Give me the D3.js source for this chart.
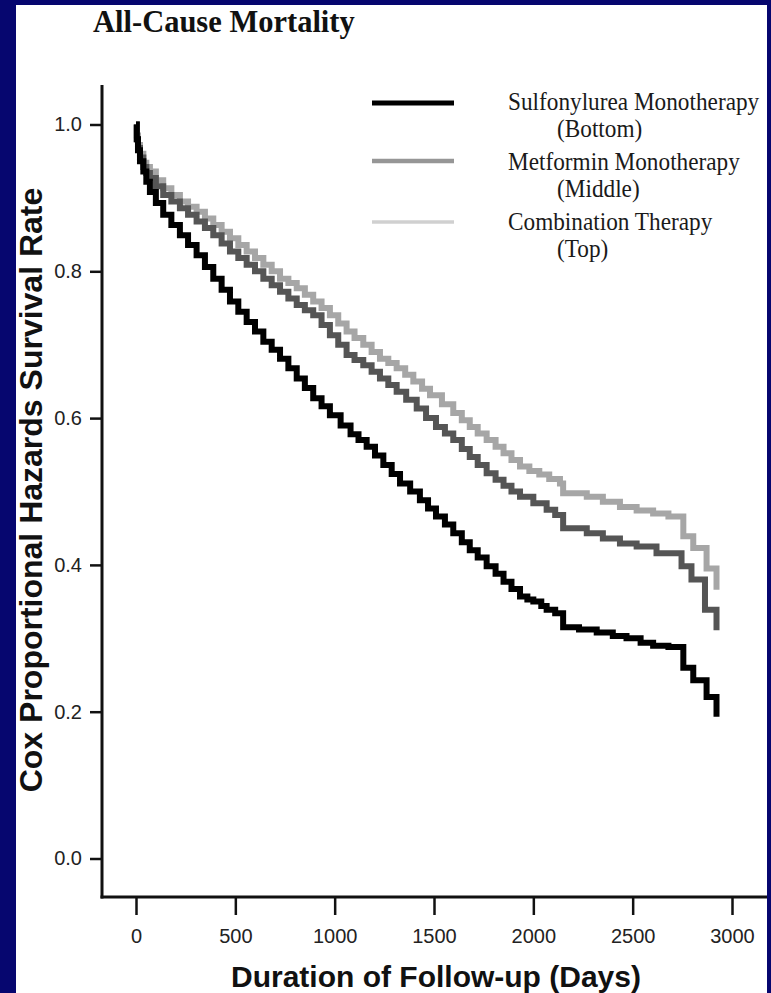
<!DOCTYPE html>
<html>
<head>
<meta charset="utf-8">
<script src="https://cdn.jsdelivr.net/npm/d3@7"></script>
<style>
  html, body { margin: 0; padding: 0; background: #06066f; }
  svg { display: block; }
</style>
</head>
<body>
<svg id="chart" width="771" height="993"></svg>
<script>
// ---- Data (days, survival rate) ----
const xTicks = [0, 500, 1000, 1500, 2000, 2500, 3000];
const yTicks = [0.0, 0.2, 0.4, 0.6, 0.8, 1.0];

const seriesNames = [
  "Sulfonylurea Monotherapy", "Metformin Monotherapy", "Combination Therapy"
];
const seriesPositions = ["(Bottom)", "(Middle)", "(Top)"];

const sulfonylurea = [
  [0,1.0],[4,0.98],[10,0.965],[20,0.95],[37,0.936],[52,0.922],[70,0.908],[100,0.893],
  [137,0.877],[178,0.863],[221,0.849],[262,0.836],[305,0.822],[347,0.806],[389,0.79],
  [431,0.775],[473,0.759],[515,0.745],[557,0.731],[599,0.718],[641,0.704],[683,0.693],
  [725,0.681],[767,0.668],[809,0.654],[850,0.641],[892,0.627],[934,0.616],[976,0.604],
  [1030,0.59],[1080,0.578],[1120,0.57],[1161,0.561],[1203,0.549],[1245,0.536],[1287,0.524],
  [1329,0.511],[1380,0.5],[1429,0.488],[1470,0.477],[1510,0.466],[1555,0.455],[1597,0.443],
  [1640,0.431],[1680,0.42],[1720,0.41],[1765,0.398],[1810,0.388],[1850,0.377],[1890,0.367],
  [1933,0.357],[1970,0.353],[2000,0.35],[2040,0.344],[2067,0.339],[2110,0.334],[2150,0.315],
  [2230,0.312],[2319,0.308],[2400,0.303],[2469,0.3],[2540,0.294],[2603,0.29],
  [2680,0.288],[2755,0.26],[2805,0.243],[2872,0.22],[2922,0.193]
];
const metformin = [
  [0,1.0],[4,0.98],[10,0.968],[20,0.955],[37,0.942],[52,0.934],[70,0.927],[100,0.916],
  [137,0.904],[178,0.895],[221,0.886],[262,0.877],[305,0.868],[347,0.859],[389,0.849],
  [431,0.838],[473,0.827],[515,0.818],[557,0.809],[599,0.8],[641,0.79],[683,0.781],
  [725,0.772],[767,0.763],[809,0.754],[850,0.747],[892,0.74],[934,0.727],[976,0.713],
  [1018,0.7],[1060,0.686],[1100,0.679],[1144,0.672],[1186,0.663],[1228,0.654],[1270,0.645],
  [1312,0.636],[1360,0.625],[1413,0.613],[1460,0.6],[1510,0.588],[1555,0.579],[1597,0.57],
  [1640,0.558],[1680,0.547],[1720,0.536],[1765,0.525],[1810,0.516],[1850,0.508],[1890,0.5],
  [1933,0.493],[2000,0.484],[2067,0.475],[2110,0.468],[2150,0.45],[2269,0.443],[2350,0.436],
  [2436,0.429],[2520,0.425],[2620,0.416],[2746,0.398],[2796,0.38],[2864,0.339],[2922,0.311]
];
const combination = [
  [0,1.0],[4,0.985],[10,0.972],[20,0.96],[37,0.948],[52,0.942],[70,0.936],[100,0.924],
  [137,0.913],[178,0.904],[221,0.895],[262,0.888],[305,0.881],[347,0.872],[389,0.863],
  [431,0.854],[473,0.845],[515,0.836],[557,0.827],[599,0.818],[641,0.809],[683,0.8],
  [725,0.79],[767,0.784],[809,0.777],[850,0.768],[892,0.759],[934,0.75],[976,0.74],
  [1018,0.729],[1060,0.718],[1100,0.709],[1144,0.7],[1186,0.69],[1228,0.681],[1270,0.675],
  [1312,0.668],[1355,0.659],[1396,0.65],[1440,0.64],[1480,0.631],[1540,0.619],[1597,0.607],
  [1640,0.597],[1680,0.588],[1720,0.579],[1765,0.57],[1810,0.561],[1850,0.552],[1890,0.543],
  [1933,0.534],[1980,0.528],[2030,0.523],[2080,0.517],[2134,0.511],[2150,0.4975],[2269,0.493],
  [2350,0.486],[2436,0.479],[2520,0.474],[2603,0.47],[2680,0.466],[2755,0.439],[2805,0.423],
  [2872,0.395],[2922,0.366]
];

const seriesData = [sulfonylurea, metformin, combination];
const lineColors = ["#000000", "#555555", "#a6a6a6"];
const lineWidths = [6, 6, 6];
const legendColors = ["#000000", "#969696", "#d0d0d0"];
const legendWidths = [5, 4.5, 3.5];

// ---- Layout ----
const svg = d3.select("#chart");
svg.append("rect").attr("x", 16).attr("y", 5).attr("width", 751).attr("height", 988).attr("fill", "#ffffff");

const x = d3.scaleLinear().domain([0, 3000]).range([136, 732]);
const y = d3.scaleLinear().domain([0, 1]).range([858.5, 124.5]);

const axisX0 = 102, axisY0 = 897;

// Title
svg.append("text")
  .attr("x", 93).attr("y", 32)
  .attr("font-family", "'Liberation Serif', 'Times New Roman', serif")
  .attr("font-weight", "bold").attr("font-size", 30.5).attr("fill", "#111")
  .text("All-Cause Mortality");

// Y axis
const yAxisG = svg.append("g").attr("transform", `translate(${axisX0},0)`)
  .call(d3.axisLeft(y).tickValues(yTicks).tickFormat(d3.format(".1f")).tickSize(12).tickPadding(8).tickSizeOuter(0));
yAxisG.select(".domain").remove();
yAxisG.selectAll(".tick line").attr("stroke", "#111").attr("stroke-width", 2.5);
yAxisG.selectAll(".tick text").attr("font-family", "'Liberation Sans', Arial, sans-serif")
  .attr("font-size", 20).attr("fill", "#222");
svg.append("line").attr("x1", axisX0).attr("x2", axisX0).attr("y1", 85).attr("y2", axisY0 + 1.5)
  .attr("stroke", "#111").attr("stroke-width", 3);

// X axis
const xAxisG = svg.append("g").attr("transform", `translate(0,${axisY0})`)
  .call(d3.axisBottom(x).tickValues(xTicks).tickFormat(d3.format("d")).tickSize(18).tickPadding(14).tickSizeOuter(0));
xAxisG.select(".domain").remove();
xAxisG.selectAll(".tick line").attr("stroke", "#111").attr("stroke-width", 2.5);
xAxisG.selectAll(".tick text").attr("font-family", "'Liberation Sans', Arial, sans-serif")
  .attr("font-size", 20).attr("fill", "#222");
svg.append("line").attr("x1", axisX0 - 1.5).attr("x2", 767).attr("y1", axisY0).attr("y2", axisY0)
  .attr("stroke", "#111").attr("stroke-width", 3);

// Axis titles
svg.append("text")
  .attr("transform", "translate(42,490) rotate(-90)")
  .attr("text-anchor", "middle")
  .attr("font-family", "'Liberation Sans', Arial, sans-serif")
  .attr("font-weight", "bold").attr("font-size", 32).attr("fill", "#111")
  .text("Cox Proportional Hazards Survival Rate");

svg.append("text")
  .attr("x", 436).attr("y", 987)
  .attr("text-anchor", "middle")
  .attr("font-family", "'Liberation Sans', Arial, sans-serif")
  .attr("font-weight", "bold").attr("font-size", 30).attr("fill", "#111")
  .text("Duration of Follow-up (Days)");

// Curves (drawn top to bottom so black is on top)
const line = d3.line().x(d => x(d[0])).y(d => y(d[1])).curve(d3.curveStepAfter);
[2, 1, 0].forEach(i => {
  svg.append("path")
    .datum(seriesData[i])
    .attr("d", line)
    .attr("fill", "none")
    .attr("stroke", lineColors[i])
    .attr("stroke-width", lineWidths[i])
    .attr("stroke-linejoin", "miter");
});

// Legend
const legendLineY = [103, 161, 222];
const legendTextY = [110, 137, 170, 197, 230, 257];
seriesNames.forEach((name, i) => {
  svg.append("line")
    .attr("x1", 372).attr("x2", 454)
    .attr("y1", legendLineY[i]).attr("y2", legendLineY[i])
    .attr("stroke", legendColors[i]).attr("stroke-width", legendWidths[i]);
  svg.append("text")
    .attr("transform", `translate(508,${legendTextY[2 * i]}) scale(0.95,1)`)
    .attr("font-family", "'Liberation Serif', 'Times New Roman', serif")
    .attr("font-size", 24.5).attr("fill", "#1a1a1a")
    .text(name);
  svg.append("text")
    .attr("transform", `translate(557,${legendTextY[2 * i + 1]}) scale(0.95,1)`)
    .attr("font-family", "'Liberation Serif', 'Times New Roman', serif")
    .attr("font-size", 24.5).attr("fill", "#1a1a1a")
    .text(seriesPositions[i]);
});
</script>
</body>
</html>
